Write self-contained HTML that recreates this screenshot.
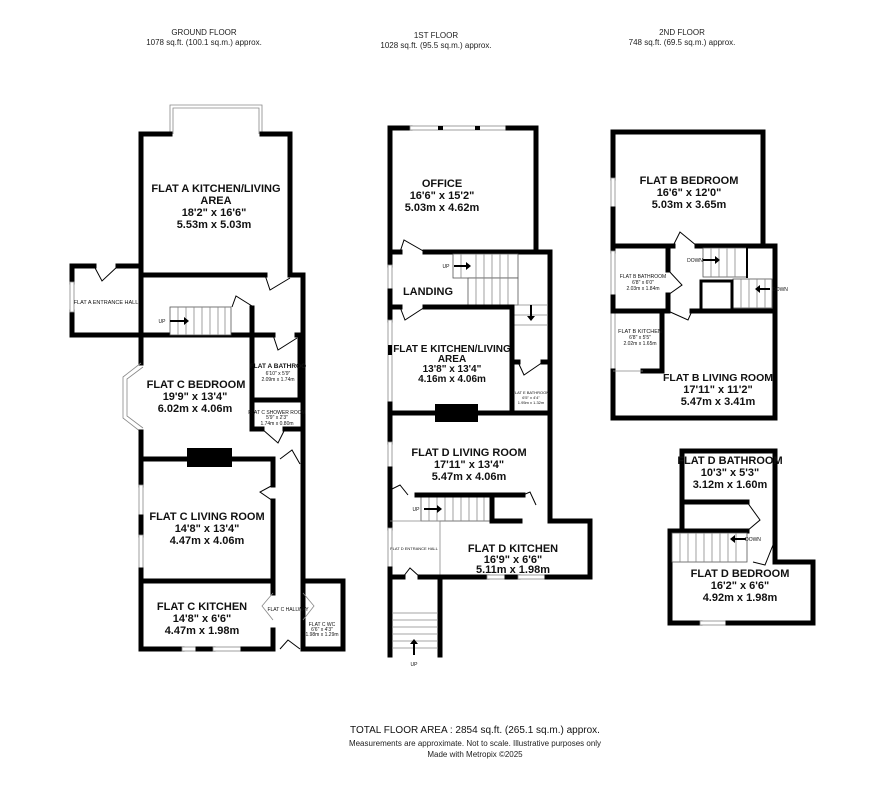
<!DOCTYPE html>
<html><head><meta charset="utf-8"><style>
html,body{margin:0;padding:0;background:#fff;}
svg{display:block;font-family:"Liberation Sans",Arial,sans-serif;}
.w{stroke:#000;stroke-width:5;fill:none;stroke-linecap:square;}
.t{stroke:#000;stroke-width:1;fill:none;}
.g{stroke:#888;stroke-width:0.8;fill:none;}
.win{fill:#fff;stroke:#888;stroke-width:0.8;}
.L{font-weight:bold;font-size:11px;text-anchor:middle;fill:#111;}
.S{font-size:5px;text-anchor:middle;fill:#111;}
.H{font-size:8px;text-anchor:middle;fill:#222;}
</style></head><body>
<svg width="886" height="792" viewBox="0 0 886 792" xmlns="http://www.w3.org/2000/svg">
<text class="H" x="204" y="35">GROUND FLOOR</text>
<text class="H" x="204" y="45">1078 sq.ft. (100.1 sq.m.) approx.</text>
<text class="H" x="436" y="38">1ST FLOOR</text>
<text class="H" x="436" y="48">1028 sq.ft. (95.5 sq.m.) approx.</text>
<text class="H" x="682" y="35">2ND FLOOR</text>
<text class="H" x="682" y="45">748 sq.ft. (69.5 sq.m.) approx.</text>

<polyline class="g" points="170,134 170,105 262,105 262,134"/>
<polyline class="g" points="173,134 173,108 259,108 259,134"/>
<line class="w" x1="141" y1="134" x2="170" y2="134"/>
<line class="w" x1="262" y1="134" x2="290" y2="134"/>
<line class="w" x1="141" y1="134" x2="141" y2="335"/>
<line class="w" x1="290" y1="134" x2="290" y2="275"/>
<line class="w" x1="141" y1="275" x2="265" y2="275"/>
<line class="w" x1="290" y1="275" x2="303" y2="275"/>
<line class="w" x1="303" y1="275" x2="303" y2="649"/>
<line class="w" x1="72" y1="266" x2="94" y2="266"/>
<line class="w" x1="118" y1="266" x2="141" y2="266"/>
<line class="w" x1="72" y1="266" x2="72" y2="282"/>
<line class="w" x1="72" y1="312" x2="72" y2="335"/>
<rect class="win" x="70" y="282" width="4" height="30"/>
<line class="w" x1="72" y1="335" x2="273" y2="335"/>
<line class="w" x1="297" y1="335" x2="303" y2="335"/>
<polyline class="t" points="94,266 102,281 118,266"/>
<rect x="170" y="307" width="61" height="28" fill="#fff" stroke="#555" stroke-width="0.8"/>
<g class="g"><line x1="178" y1="307" x2="178" y2="335"/><line x1="186" y1="307" x2="186" y2="335"/><line x1="194" y1="307" x2="194" y2="335"/><line x1="202" y1="307" x2="202" y2="335"/><line x1="210" y1="307" x2="210" y2="335"/><line x1="218" y1="307" x2="218" y2="335"/><line x1="225" y1="307" x2="225" y2="335"/></g>
<line x1="170" y1="321" x2="184" y2="321" stroke="#000" stroke-width="2"/><polygon points="184,317 189,321 184,325"/>
<text class="S" x="162" y="323">UP</text>
<polyline class="t" points="232,307 236,296 252,306"/>
<polyline class="t" points="265,275 270,290 290,278"/>
<line class="w" x1="252" y1="308" x2="252" y2="429"/>
<line class="w" x1="252" y1="400" x2="301" y2="400"/>
<line class="w" x1="252" y1="429" x2="262" y2="429"/>
<line class="w" x1="285" y1="429" x2="301" y2="429"/>
<line class="w" x1="300" y1="335" x2="300" y2="400"/>
<polyline class="t" points="273,335 278,350 297,338"/>
<polyline class="t" points="262,429 278,443 285,429"/>
<line class="w" x1="141" y1="335" x2="141" y2="363"/>
<polyline class="g" points="141,363 123,377 123,418 141,432"/>
<polyline class="g" points="143,367 127,379 127,416 143,428"/>
<line class="w" x1="141" y1="432" x2="141" y2="485"/>
<rect class="win" x="139" y="485" width="4" height="32"/>
<line class="w" x1="141" y1="517" x2="141" y2="535"/>
<rect class="win" x="139" y="535" width="4" height="35"/>
<line class="w" x1="141" y1="570" x2="141" y2="649"/>
<line class="w" x1="141" y1="459" x2="273" y2="459"/>
<rect x="187" y="448" width="45" height="19" fill="#000"/>
<line class="w" x1="273" y1="459" x2="273" y2="485"/>
<line class="w" x1="273" y1="501" x2="273" y2="593"/>
<polyline class="t" points="273,485 260,492 273,501"/>
<polyline class="t" points="280,459 292,450 300,464"/>
<line class="w" x1="141" y1="581" x2="273" y2="581"/>
<line class="w" x1="141" y1="649" x2="182" y2="649"/>
<rect class="win" x="182" y="647" width="16" height="4"/>
<line class="w" x1="198" y1="649" x2="213" y2="649"/>
<rect class="win" x="213" y="647" width="30" height="4"/>
<line class="w" x1="243" y1="649" x2="273" y2="649"/>
<line class="w" x1="273" y1="630" x2="273" y2="649"/>
<polyline class="g" points="273,593 262,606 273,620"/>
<polyline class="g" points="303,593 314,606 303,620"/>
<polyline class="t" points="280,649 288,640 300,649"/>
<line class="w" x1="303" y1="581" x2="343" y2="581"/>
<line class="w" x1="343" y1="581" x2="343" y2="649"/>
<line class="w" x1="303" y1="649" x2="343" y2="649"/>
<text class="L" x="216" y="192">FLAT A KITCHEN/LIVING</text>
<text class="L" x="216" y="204">AREA</text>
<text class="L" x="214" y="216">18'2"  x 16'6"</text>
<text class="L" x="214" y="228">5.53m  x 5.03m</text>
<text class="S" x="106" y="304" style="font-size:5.5px">FLAT A ENTRANCE HALL</text>
<text class="L" x="196" y="388">FLAT C BEDROOM</text>
<text class="L" x="195" y="400">19'9"  x 13'4"</text>
<text class="L" x="195" y="412">6.02m  x 4.06m</text>
<text class="S" x="278" y="368" style="font-size:6.5px;font-weight:bold">FLAT A BATHROO</text>
<text class="S" x="278" y="375">6'10"  x 5'9"</text>
<text class="S" x="278" y="381">2.09m  x 1.74m</text>
<text class="S" x="277" y="414">FLAT C SHOWER ROOM</text>
<text class="S" x="277" y="419">5'9"  x 2'3"</text>
<text class="S" x="277" y="425">1.74m  x 0.80m</text>
<text class="L" x="207" y="520">FLAT C LIVING ROOM</text>
<text class="L" x="207" y="532">14'8"  x 13'4"</text>
<text class="L" x="207" y="544">4.47m  x 4.06m</text>
<text class="L" x="202" y="610">FLAT C KITCHEN</text>
<text class="L" x="202" y="622">14'8"  x 6'6"</text>
<text class="L" x="202" y="634">4.47m  x 1.98m</text>
<text class="S" x="288" y="611">FLAT C HALLWAY</text>
<text class="S" x="322" y="626">FLAT C WC</text>
<text class="S" x="322" y="631">6'6"  x 4'3"</text>
<text class="S" x="322" y="636">1.98m  x 1.29m</text>

<line class="w" x1="390" y1="128" x2="410" y2="128"/>
<rect class="win" x="410" y="126" width="98" height="4"/>
<rect x="438" y="126" width="5" height="4" fill="#000"/><rect x="475" y="126" width="5" height="4" fill="#000"/>
<line class="w" x1="508" y1="128" x2="536" y2="128"/>
<line class="w" x1="536" y1="128" x2="536" y2="252"/>
<line class="w" x1="390" y1="252" x2="400" y2="252"/>
<line class="w" x1="425" y1="252" x2="550" y2="252"/>
<polyline class="t" points="400,252 404,240 425,252"/>
<line class="w" x1="550" y1="252" x2="550" y2="521"/>
<line class="w" x1="550" y1="521" x2="590" y2="521"/>
<line class="w" x1="590" y1="521" x2="590" y2="577"/>
<line class="w" x1="440" y1="577" x2="487" y2="577"/>
<rect class="win" x="487" y="575" width="20" height="4"/>
<line class="w" x1="507" y1="577" x2="518" y2="577"/>
<rect class="win" x="518" y="575" width="29" height="4"/>
<line class="w" x1="547" y1="577" x2="590" y2="577"/>
<line class="w" x1="390" y1="128" x2="390" y2="265"/>
<rect class="win" x="388" y="265" width="4" height="26"/>
<line class="w" x1="390" y1="291" x2="390" y2="320"/>
<rect class="win" x="388" y="320" width="4" height="84"/>
<rect x="388" y="345" width="4" height="10" fill="#000"/>
<line class="w" x1="390" y1="404" x2="390" y2="442"/>
<rect class="win" x="388" y="442" width="4" height="27"/>
<line class="w" x1="390" y1="469" x2="390" y2="528"/>
<rect class="win" x="388" y="528" width="4" height="41"/>
<line class="w" x1="390" y1="569" x2="390" y2="655"/>
<rect x="453" y="254" width="65" height="24" fill="#fff" stroke="#555" stroke-width="0.8"/>
<rect x="468" y="278" width="50" height="27" fill="#fff" stroke="#555" stroke-width="0.8"/>
<g class="g"><line x1="461" y1="254" x2="461" y2="278"/><line x1="476" y1="254" x2="476" y2="305"/><line x1="484" y1="254" x2="484" y2="305"/><line x1="492" y1="254" x2="492" y2="305"/><line x1="500" y1="254" x2="500" y2="305"/><line x1="508" y1="254" x2="508" y2="305"/><line x1="514" y1="305" x2="547" y2="305"/><line x1="514" y1="315" x2="547" y2="315"/><line x1="514" y1="325" x2="547" y2="325"/></g>
<line x1="454" y1="266" x2="466" y2="266" stroke="#000" stroke-width="2"/><polygon points="466,262 471,266 466,270"/>
<line x1="531" y1="305" x2="531" y2="316" stroke="#000" stroke-width="2"/><polygon points="527,316 531,321 535,316"/>
<text class="S" x="446" y="268">UP</text>
<line class="w" x1="390" y1="307" x2="400" y2="307"/>
<line class="w" x1="425" y1="307" x2="512" y2="307"/>
<polyline class="t" points="400,307 405,320 425,307"/>
<line class="w" x1="512" y1="307" x2="512" y2="413"/>
<line class="w" x1="512" y1="362" x2="518" y2="362"/>
<line class="w" x1="543" y1="362" x2="550" y2="362"/>
<polyline class="t" points="518,362 524,375 543,362"/>
<line class="w" x1="390" y1="413" x2="550" y2="413"/>
<rect x="435" y="404" width="43" height="18" fill="#000"/>
<rect x="421" y="497" width="69" height="24" fill="#fff" stroke="#555" stroke-width="0.8"/>
<g class="g"><line x1="429" y1="497" x2="429" y2="521"/><line x1="437" y1="497" x2="437" y2="521"/><line x1="445" y1="497" x2="445" y2="521"/><line x1="453" y1="497" x2="453" y2="521"/><line x1="461" y1="497" x2="461" y2="521"/><line x1="469" y1="497" x2="469" y2="521"/><line x1="477" y1="497" x2="477" y2="521"/><line x1="484" y1="497" x2="484" y2="521"/></g>
<line x1="424" y1="509" x2="437" y2="509" stroke="#000" stroke-width="2"/><polygon points="437,505 442,509 437,513"/>
<text class="S" x="416" y="511">UP</text>
<line class="w" x1="417" y1="495" x2="523" y2="495"/>
<line class="w" x1="492" y1="495" x2="492" y2="521"/>
<line class="w" x1="492" y1="521" x2="520" y2="521"/>
<polyline class="t" points="390,490 400,485 408,495"/>
<polyline class="t" points="523,495 530,492 536,505"/>
<line class="g" x1="390" y1="521" x2="440" y2="521"/>
<line class="g" x1="440" y1="521" x2="440" y2="577"/>
<polyline class="t" points="403,577 410,568 420,577"/>
<line class="w" x1="390" y1="577" x2="403" y2="577"/>
<line class="w" x1="420" y1="577" x2="440" y2="577"/>
<line class="w" x1="440" y1="577" x2="440" y2="655"/>
<g class="g"><line x1="392" y1="613" x2="438" y2="613"/><line x1="392" y1="620" x2="438" y2="620"/><line x1="392" y1="627" x2="438" y2="627"/><line x1="392" y1="634" x2="438" y2="634"/><line x1="392" y1="641" x2="438" y2="641"/><line x1="392" y1="648" x2="438" y2="648"/></g>
<line x1="414" y1="655" x2="414" y2="644" stroke="#000" stroke-width="2"/><polygon points="410,644 414,639 418,644"/>
<text class="S" x="414" y="666">UP</text>
<text class="L" x="442" y="187">OFFICE</text>
<text class="L" x="442" y="199">16'6"  x 15'2"</text>
<text class="L" x="442" y="211">5.03m  x 4.62m</text>
<text class="L" x="428" y="295">LANDING</text>
<text class="L" x="452" y="352" style="font-size:10px">FLAT E KITCHEN/LIVING</text>
<text class="L" x="452" y="362" style="font-size:10px">AREA</text>
<text class="L" x="452" y="372" style="font-size:10px">13'8"  x 13'4"</text>
<text class="L" x="452" y="382" style="font-size:10px">4.16m  x 4.06m</text>
<text class="S" x="531" y="394" style="font-size:4px">FLAT E BATHROOM</text>
<text class="S" x="531" y="399" style="font-size:4px">6'5" x 4'4"</text>
<text class="S" x="531" y="404" style="font-size:4px">1.95m x 1.32m</text>
<text class="L" x="469" y="456">FLAT D LIVING ROOM</text>
<text class="L" x="469" y="468">17'11"  x 13'4"</text>
<text class="L" x="469" y="480">5.47m  x 4.06m</text>
<text class="S" x="414" y="550" style="font-size:4px">FLAT D ENTRANCE HALL</text>
<text class="L" x="513" y="552">FLAT D    KITCHEN</text>
<text class="L" x="513" y="563">16'9"  x 6'6"</text>
<text class="L" x="513" y="573">5.11m  x 1.98m</text>

<line class="w" x1="613" y1="132" x2="763" y2="132"/>
<line class="w" x1="763" y1="132" x2="763" y2="246"/>
<line class="w" x1="763" y1="246" x2="775" y2="246"/>
<line class="w" x1="775" y1="246" x2="775" y2="418"/>
<line class="w" x1="613" y1="418" x2="775" y2="418"/>
<line class="w" x1="613" y1="132" x2="613" y2="178"/>
<rect class="win" x="611" y="178" width="4" height="31"/>
<line class="w" x1="613" y1="209" x2="613" y2="251"/>
<rect class="win" x="611" y="251" width="4" height="46"/>
<line class="w" x1="613" y1="297" x2="613" y2="311"/>
<rect class="win" x="611" y="311" width="4" height="60"/>
<line class="w" x1="613" y1="371" x2="613" y2="418"/>
<line class="w" x1="613" y1="246" x2="673" y2="246"/>
<line class="w" x1="697" y1="246" x2="763" y2="246"/>
<polyline class="t" points="673,246 680,232 697,246"/>
<line class="w" x1="668" y1="246" x2="668" y2="270"/>
<line class="w" x1="668" y1="295" x2="668" y2="311"/>
<polyline class="t" points="668,270 682,285 668,295"/>
<line class="w" x1="613" y1="311" x2="668" y2="311"/>
<line class="w" x1="692" y1="311" x2="775" y2="311"/>
<polyline class="t" points="668,311 688,320 692,311"/>
<line class="w" x1="662" y1="311" x2="662" y2="371"/>
<line class="w" x1="643" y1="371" x2="662" y2="371"/>
<line class="g" x1="613" y1="371" x2="643" y2="371"/>
<rect x="703" y="248" width="44" height="29" fill="#fff" stroke="#555" stroke-width="0.8"/>
<rect x="733" y="279" width="39" height="29" fill="#fff" stroke="#555" stroke-width="0.8"/>
<g class="g"><line x1="711" y1="248" x2="711" y2="277"/><line x1="719" y1="248" x2="719" y2="277"/><line x1="727" y1="248" x2="727" y2="277"/><line x1="735" y1="248" x2="735" y2="277"/><line x1="741" y1="279" x2="741" y2="308"/><line x1="749" y1="279" x2="749" y2="308"/><line x1="757" y1="279" x2="757" y2="308"/><line x1="765" y1="279" x2="765" y2="308"/></g>
<line class="w" x1="747" y1="248" x2="747" y2="277" style="stroke-width:2"/>
<rect x="701" y="281" width="31" height="29" fill="none" stroke="#000" stroke-width="3"/>
<line x1="703" y1="260" x2="715" y2="260" stroke="#000" stroke-width="2"/><polygon points="715,256 720,260 715,264"/>
<text class="S" x="695" y="262">DOWN</text>
<line x1="770" y1="289" x2="760" y2="289" stroke="#000" stroke-width="2"/><polygon points="760,285 755,289 760,293"/>
<text class="S" x="780" y="291">DOWN</text>
<line class="w" x1="682" y1="451" x2="775" y2="451"/>
<line class="w" x1="682" y1="451" x2="682" y2="531"/>
<line class="w" x1="775" y1="451" x2="775" y2="562"/>
<line class="w" x1="682" y1="502" x2="747" y2="502"/>
<polyline class="t" points="747,502 760,520 747,531"/>
<line class="w" x1="670" y1="531" x2="747" y2="531"/>
<line class="w" x1="670" y1="531" x2="670" y2="623"/>
<rect x="672" y="533" width="75" height="29" fill="#fff" stroke="#555" stroke-width="0.8"/>
<g class="g"><line x1="680" y1="533" x2="680" y2="562"/><line x1="688" y1="533" x2="688" y2="562"/><line x1="696" y1="533" x2="696" y2="562"/><line x1="704" y1="533" x2="704" y2="562"/><line x1="712" y1="533" x2="712" y2="562"/><line x1="720" y1="533" x2="720" y2="562"/><line x1="728" y1="533" x2="728" y2="562"/><line x1="736" y1="533" x2="736" y2="562"/></g>
<line x1="746" y1="539" x2="735" y2="539" stroke="#000" stroke-width="2"/><polygon points="735,535 730,539 735,543"/>
<text class="S" x="753" y="541">DOWN</text>
<polyline class="t" points="775,540 765,565 753,562"/>
<line class="w" x1="775" y1="562" x2="813" y2="562"/>
<line class="w" x1="813" y1="562" x2="813" y2="623"/>
<line class="w" x1="670" y1="623" x2="700" y2="623"/>
<rect class="win" x="700" y="621" width="28" height="4"/>
<line class="w" x1="728" y1="623" x2="813" y2="623"/>
<text class="L" x="689" y="184">FLAT B BEDROOM</text>
<text class="L" x="689" y="196">16'6"  x 12'0"</text>
<text class="L" x="689" y="208">5.03m  x 3.65m</text>
<text class="S" x="643" y="278">FLAT B BATHROOM</text>
<text class="S" x="643" y="284">6'8"  x 6'0"</text>
<text class="S" x="643" y="290">2.03m  x 1.84m</text>
<text class="S" x="640" y="333" style="font-size:5.5px">FLAT B KITCHEN</text>
<text class="S" x="640" y="339">6'8"  x 5'5"</text>
<text class="S" x="640" y="345">2.02m  x 1.65m</text>
<text class="L" x="718" y="381" style="font-size:10.5px">FLAT B LIVING ROOM</text>
<text class="L" x="718" y="393">17'11"  x 11'2"</text>
<text class="L" x="718" y="405">5.47m  x 3.41m</text>
<text class="L" x="730" y="464">FLAT D BATHROOM</text>
<text class="L" x="730" y="476">10'3"  x 5'3"</text>
<text class="L" x="730" y="488">3.12m  x 1.60m</text>
<text class="L" x="740" y="577">FLAT D BEDROOM</text>
<text class="L" x="740" y="589">16'2"  x 6'6"</text>
<text class="L" x="740" y="601">4.92m  x 1.98m</text>

<text x="475" y="733" style="font-size:10px;text-anchor:middle;fill:#111">TOTAL FLOOR AREA : 2854 sq.ft. (265.1 sq.m.) approx.</text>
<text x="475" y="746" style="font-size:8px;text-anchor:middle;fill:#222">Measurements are approximate.  Not to scale.  Illustrative purposes only</text>
<text x="475" y="757" style="font-size:8px;text-anchor:middle;fill:#222">Made with Metropix ©2025</text>
</svg>
</body></html>
